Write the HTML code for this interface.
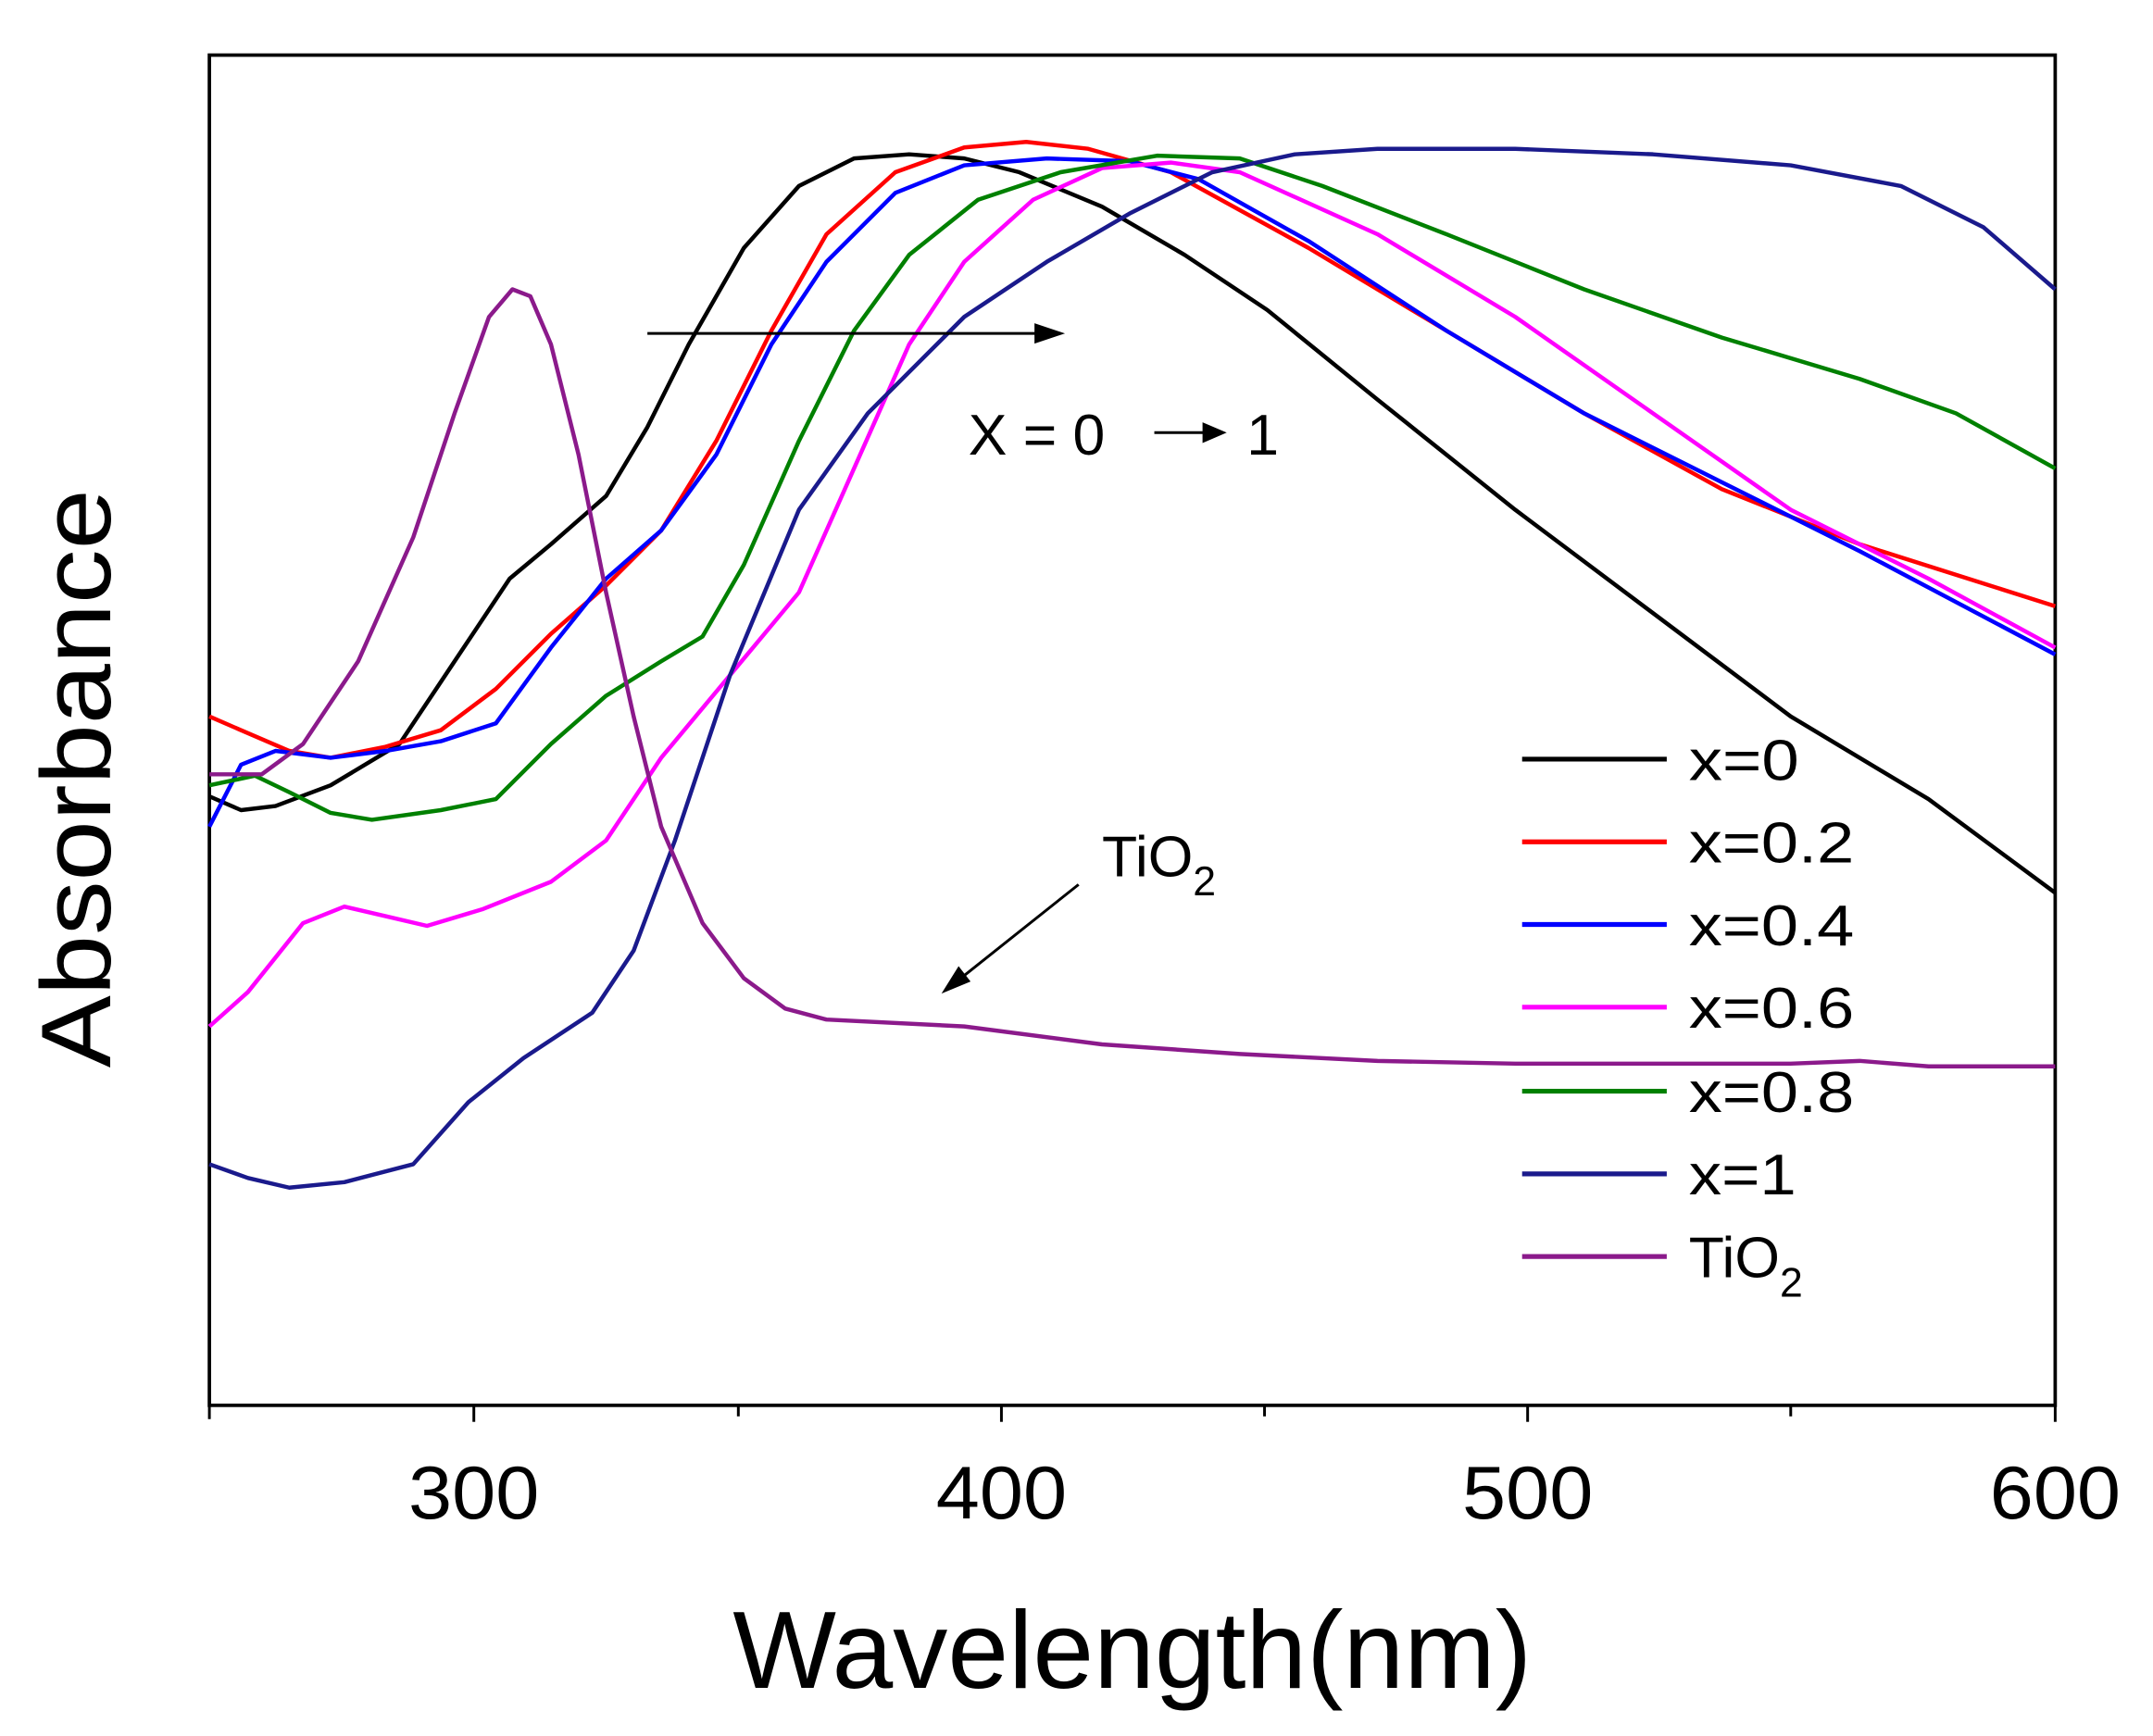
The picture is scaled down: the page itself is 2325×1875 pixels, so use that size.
<!DOCTYPE html>
<html><head><meta charset="utf-8"><style>html,body{margin:0;padding:0;background:#fff}svg{display:block}</style></head>
<body>
<svg width="2325" height="1875" viewBox="0 0 1563 1260" preserveAspectRatio="none" xmlns="http://www.w3.org/2000/svg" font-family="Liberation Sans, sans-serif">
<rect width="1563" height="1260" fill="#fff"/>
<rect x="152" y="40" width="1340" height="980" fill="none" stroke="#000" stroke-width="2.5"/>
<g stroke="#000" stroke-width="2">
<line x1="152" y1="1020" x2="152" y2="1030"/><line x1="344" y1="1020" x2="344" y2="1032"/><line x1="536" y1="1020" x2="536" y2="1028"/><line x1="727" y1="1020" x2="727" y2="1032"/><line x1="918" y1="1020" x2="918" y2="1028"/><line x1="1109" y1="1020" x2="1109" y2="1032"/><line x1="1300" y1="1020" x2="1300" y2="1028"/><line x1="1492" y1="1020" x2="1492" y2="1032"/>
</g>
<g font-size="54" text-anchor="middle" fill="#000">
<text x="344" y="1102" textLength="95" lengthAdjust="spacingAndGlyphs">300</text>
<text x="727" y="1102" textLength="95" lengthAdjust="spacingAndGlyphs">400</text>
<text x="1109" y="1102" textLength="95" lengthAdjust="spacingAndGlyphs">500</text>
<text x="1492" y="1102" textLength="95" lengthAdjust="spacingAndGlyphs">600</text>
</g>
<text x="822" y="1225" font-size="80" text-anchor="middle" textLength="580" lengthAdjust="spacingAndGlyphs">Wavelength(nm)</text>
<text transform="translate(80,565) rotate(-90)" font-size="72" text-anchor="middle" textLength="420" lengthAdjust="spacingAndGlyphs">Absorbance</text>
<g fill="none" stroke-width="3" stroke-linejoin="round">
<polyline stroke="#000" points="152,578 175,588 200,585 240,570 290,540 330,480 370,420 400,395 440,360 470,310 500,250 540,180 580,135 620,115 660,112 700,115 740,125 800,150 860,185 920,225 1000,290 1100,370 1200,445 1300,520 1400,580 1492,648"/>
<polyline stroke="#ff0000" points="152,520 175,530 210,545 240,550 280,542 320,530 360,500 400,460 440,425 480,385 520,320 560,240 600,170 650,125 700,107 745,103 790,108 850,125 950,180 1050,240 1150,300 1250,355 1350,395 1492,440"/>
<polyline stroke="#0000ff" points="152,600 175,555 200,545 240,550 280,545 320,538 360,525 400,470 440,420 480,385 520,330 560,250 600,190 650,140 700,120 760,115 820,117 870,130 950,175 1050,240 1150,300 1250,350 1350,400 1492,475"/>
<polyline stroke="#ff00ff" points="152,745 180,720 220,670 250,658 280,665 310,672 350,660 400,640 440,610 480,550 530,490 580,430 620,340 660,250 700,190 750,145 800,122 850,118 900,125 1000,170 1100,230 1200,300 1300,370 1400,420 1492,470"/>
<polyline stroke="#008000" points="152,570 185,563 210,575 240,590 270,595 320,588 360,580 400,540 440,505 480,480 510,462 540,410 580,320 620,240 660,185 710,145 770,125 840,113 900,115 960,135 1050,170 1150,210 1250,245 1350,275 1420,300 1492,340"/>
<polyline stroke="#1a1a8c" points="152,845 180,855 210,862 250,858 300,845 340,800 380,768 430,735 460,690 490,610 530,490 580,370 630,300 700,230 760,190 820,155 880,125 940,112 1000,108 1100,108 1200,112 1300,120 1380,135 1440,165 1492,210"/>
<polyline stroke="#8b1a8b" points="152,562 190,562 220,540 260,480 300,390 330,300 355,230 372,210 385,215 400,250 420,330 440,430 460,520 480,600 510,670 540,710 570,732 600,740 700,745 800,758 900,765 1000,770 1100,772 1200,772 1300,772 1350,770 1400,774 1492,774"/>
</g>
<g stroke-width="3.5">
<line x1="1105" y1="551" x2="1210" y2="551" stroke="#000"/>
<line x1="1105" y1="611" x2="1210" y2="611" stroke="#ff0000"/>
<line x1="1105" y1="671" x2="1210" y2="671" stroke="#0000ff"/>
<line x1="1105" y1="731" x2="1210" y2="731" stroke="#ff00ff"/>
<line x1="1105" y1="792" x2="1210" y2="792" stroke="#008000"/>
<line x1="1105" y1="852" x2="1210" y2="852" stroke="#1a1a8c"/>
<line x1="1105" y1="912" x2="1210" y2="912" stroke="#8b1a8b"/>
</g>
<g font-size="42" fill="#000">
<text x="1226" y="566" textLength="80" lengthAdjust="spacingAndGlyphs">x=0</text>
<text x="1226" y="626" textLength="120" lengthAdjust="spacingAndGlyphs">x=0.2</text>
<text x="1226" y="686" textLength="120" lengthAdjust="spacingAndGlyphs">x=0.4</text>
<text x="1226" y="746" textLength="120" lengthAdjust="spacingAndGlyphs">x=0.6</text>
<text x="1226" y="807" textLength="120" lengthAdjust="spacingAndGlyphs">x=0.8</text>
<text x="1226" y="867" textLength="78" lengthAdjust="spacingAndGlyphs">x=1</text>
<text x="1226" y="927">TiO<tspan font-size="30" dy="14">2</tspan></text>
<text x="800" y="636">TiO<tspan font-size="30" dy="14">2</tspan></text>
<text x="703" y="330">X = 0</text>
<text x="905" y="330">1</text>
</g>
<g stroke="#000" stroke-width="2" fill="#000">
<line x1="470" y1="242" x2="760" y2="242"/><polygon points="770,242 752,236 752,248"/>
<line x1="838" y1="314" x2="880" y2="314"/><polygon points="888,314 874,308 874,320"/>
<line x1="783" y1="642" x2="695" y2="712"/><polygon points="686,719 696,703 703,712"/>
</g>
</svg>
</body></html>
